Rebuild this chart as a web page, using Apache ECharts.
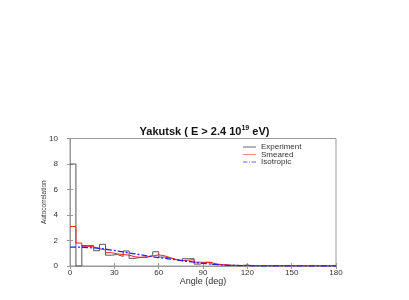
<!DOCTYPE html>
<html><head><meta charset="utf-8">
<script src="https://cdn.jsdelivr.net/npm/echarts@6/dist/echarts.min.js"></script>
<style>html,body{margin:0;padding:0;background:#fff}#c{width:409px;height:300px}</style>
</head><body><div id="c"></div>
<script>
const binStarts = [0,4,8,12,16,20,24,28,32,36,40,44,48,52,56,60,64,68,72,76,80,84,88,92,96,100,104,108,112,116,120,124,128,132,136,140,144,148,152,156,160,164,168,172,176];
const experiment = [8.0,0,1.6,1.6,1.2,1.7,0.85,0.9,0.75,1.18,0.6,0.68,0.68,0.82,1.12,0.7,0.62,0.5,0.4,0.57,0.57,0.15,0.3,0.3,0.12,0.08,0.05,0.05,0.03,0.08,0.02,0.02,0.01,0.01,0.01,0.01,0.01,0.01,0.01,0.01,0.01,0.01,0.01,0.01,0.01];
const smeared = [3.1,1.8,1.55,1.5,1.36,1.26,1.05,0.95,0.9,0.85,0.72,0.68,0.72,0.78,0.88,0.8,0.65,0.5,0.42,0.45,0.5,0.3,0.28,0.25,0.15,0.1,0.07,0.05,0.04,0.05,0.03,0.02,0.02,0.02,0.015,0.015,0.01,0.01,0.01,0.01,0.01,0.01,0.01,0.01,0.01];
const isotropic = [1.48,1.47,1.45,1.42,1.38,1.32,1.25,1.18,1.1,1.02,0.95,0.88,0.8,0.72,0.66,0.6,0.54,0.48,0.42,0.36,0.3,0.24,0.19,0.14,0.1,0.07,0.05,0.04,0.03,0.025,0.02,0.015,0.012,0.01,0.01,0.008,0.006,0.005,0.004,0.003,0.002,0.002,0.001,0.001,0.001];
const xTicks = [0,30,60,90,120,150,180];
const yTicks = [0,2,4,6,8,10];
const seriesNames = ['Experiment','Smeared','Isotropic'];

function toSteps(vals){
  const d = binStarts.map((x,i)=>[x, vals[i]]);
  d.push([180, vals[vals.length-1]]);
  return d;
}
const font = 'Liberation Sans, Arial, sans-serif';
const chart = echarts.init(document.getElementById('c'), null, {renderer:'canvas'});
const axisCommon = {
  axisLine:{show:true, lineStyle:{color:'#999', width:1}},
  axisTick:{show:true, inside:true, length:3, lineStyle:{color:'#999'}},
  splitLine:{show:false}
};
const solidIcon = 'path://M0 0H26V2H0Z';
const dashIcon = 'path://M0 0H9V2H0Z M12 0H14V2H12Z M17 0H26V2H17Z';
chart.setOption({
  animation:false,
  title:{
    text:'{t|Yakutsk ( E > 2.4 10}{s|19}{t| eV)}',
    left:'center', top:120,
    textStyle:{rich:{
      t:{fontFamily:font, fontWeight:'bold', fontSize:11, color:'#111'},
      s:{fontFamily:font, fontWeight:'bold', fontSize:7, color:'#111', verticalAlign:'top', padding:[0,0,6,0]}
    }}
  },
  legend:{
    data:[
      {name:seriesNames[0], icon:solidIcon, itemStyle:{color:'#666'}},
      {name:seriesNames[1], icon:solidIcon, itemStyle:{color:'#f88'}},
      {name:seriesNames[2], icon:dashIcon, itemStyle:{color:'#66f'}}
    ],
    orient:'vertical', left:243, top:143, padding:0,
    itemWidth:13, itemHeight:1.2, itemGap:-0.5,
    textStyle:{fontFamily:font, fontSize:8, color:'#333', padding:[0,0,0,0]}
  },
  grid:{left:70, right:73, top:138.5, bottom:34, show:true, borderColor:'#999', borderWidth:1},
  xAxis:[
    Object.assign({type:'value', min:0, max:180, interval:30, position:'bottom',
      name:'Angle (deg)', nameLocation:'middle', nameGap:11, nameMoveOverlap:false,
      nameTextStyle:{fontFamily:font, fontSize:9, color:'#333'},
      axisLabel:{fontFamily:font, fontSize:8, color:'#333', margin:3}}, axisCommon),
    Object.assign({type:'value', min:0, max:180, interval:30, position:'top', axisLabel:{show:false}}, axisCommon)
  ],
  yAxis:[
    Object.assign({type:'value', min:0, max:10, interval:2, position:'left',
      name:'Autocorrelation', nameLocation:'middle', nameGap:22, nameMoveOverlap:false,
      nameTextStyle:{fontFamily:font, fontSize:6.5, color:'#333'},
      axisLabel:{fontFamily:font, fontSize:8, color:'#333', margin:12,
        formatter:v=>yTicks.includes(v)?String(v):''}}, axisCommon),
    Object.assign({type:'value', min:0, max:10, interval:2, position:'right', axisLabel:{show:false}}, axisCommon)
  ],
  series:[
    {name:seriesNames[0], type:'line', step:'end', data:toSteps(experiment), symbol:'none',
      lineStyle:{color:'#555', width:1}, itemStyle:{color:'#555'}, z:3},
    {name:seriesNames[1], type:'line', step:'end', data:toSteps(smeared), symbol:'none',
      lineStyle:{color:'#f22', width:1}, itemStyle:{color:'#f55'}, z:4},
    {name:seriesNames[2], type:'line', step:'end', data:toSteps(isotropic), symbol:'none',
      lineStyle:{color:'#22f', width:1.3, type:[6,2,2,2]}, itemStyle:{color:'#44f'}, z:5}
  ]
});
</script></body></html>
